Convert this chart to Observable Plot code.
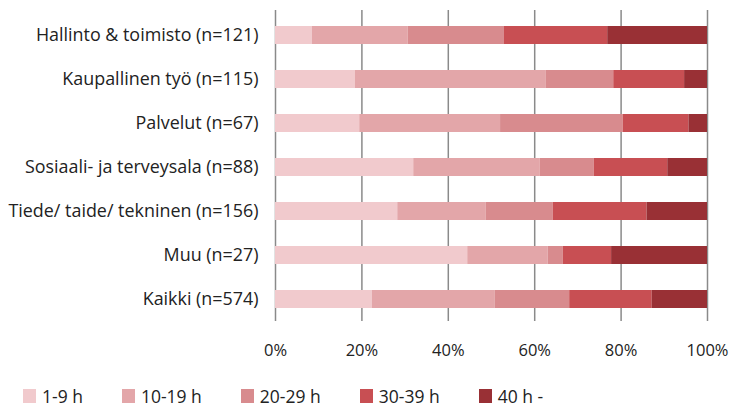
<!DOCTYPE html>
<html>
<head>
<meta charset="utf-8">
<script src="https://cdn.jsdelivr.net/npm/d3@7"></script>
<script src="https://cdn.jsdelivr.net/npm/@observablehq/plot@0.6"></script>
<style>
  html, body { margin: 0; padding: 0; background: #fff; }
  body { width: 730px; height: 408px; overflow: hidden; font-family: "Open Sans", sans-serif; }
  #chart svg { display: block; }
  #chart svg text { font-weight: 400; }
  #legend { display: flex; align-items: center; height: 36px; padding-top: 6px; padding-left: 23px; font-size: 17.5px; color: #222; }
  #legend .item { display: flex; align-items: center; margin-right: 39px; }
  #legend .sw { width: 13px; height: 14px; margin-right: 6px; }
</style>
</head>
<body>
<div id="chart"></div>
<div id="legend"></div>
<script>
const categories = [
  "Hallinto & toimisto (n=121)",
  "Kaupallinen työ (n=115)",
  "Palvelut (n=67)",
  "Sosiaali- ja terveysala (n=88)",
  "Tiede/ taide/ tekninen (n=156)",
  "Muu (n=27)",
  "Kaikki (n=574)"
];
const groups = ["1-9 h", "10-19 h", "20-29 h", "30-39 h", "40 h -"];
const colors = ["#f1cacd", "#e3a6a9", "#d88b8e", "#c84f53", "#993035"];

// percentage shares per category (same order as categories)
const h1_9   = [8.5, 18.5, 19.5, 32.0, 28.3, 44.5, 22.4];
const h10_19 = [22.2, 44.1, 32.6, 29.3, 20.5, 18.6, 28.4];
const h20_29 = [22.3, 15.7, 28.4, 12.5, 15.5, 3.5, 17.3];
const h30_39 = [23.9, 16.4, 15.2, 17.0, 21.7, 11.2, 19.1];
const h40    = [23.1, 5.3, 4.3, 9.2, 14.0, 22.2, 12.8];

const xTicks = [0, 20, 40, 60, 80, 100];

const series = [h1_9, h10_19, h20_29, h30_39, h40];
const data = [];
categories.forEach((c, i) => {
  groups.forEach((g, j) => data.push({cat: c, group: g, value: series[j][i]}));
});

const chart = Plot.plot({
  width: 730,
  height: 372,
  marginLeft: 275,
  marginRight: 23,
  marginTop: 12,
  marginBottom: 51,
  style: {fontFamily: "'Open Sans', sans-serif", fontSize: "16px", color: "#222", background: "#fff"},
  x: {domain: [0, 100], axis: null},
  y: {domain: categories, paddingInner: 0.6, paddingOuter: 0.3, axis: null},
  color: {domain: groups, range: colors},
  marks: [
    Plot.ruleX(xTicks, {stroke: "#8a8a8a", strokeWidth: 1.5, insetTop: -2, insetBottom: 0}),
    Plot.barX(data, {y: "cat", x: "value", fill: "group", order: groups, z: "group"}),
    Plot.axisX({ticks: xTicks, tickFormat: d => d + "%", tickSize: 0, tickPadding: 23, fontSize: 16.5, label: null}),
    Plot.axisY({tickSize: 0, tickPadding: 17, fontSize: 17.9, label: null})
  ]
});
document.getElementById("chart").appendChild(chart);

const legend = document.getElementById("legend");
groups.forEach((g, i) => {
  const item = document.createElement("div");
  item.className = "item";
  const sw = document.createElement("div");
  sw.className = "sw";
  sw.style.background = colors[i];
  const t = document.createElement("span");
  t.textContent = g;
  item.appendChild(sw);
  item.appendChild(t);
  legend.appendChild(item);
});
</script>
</body>
</html>
